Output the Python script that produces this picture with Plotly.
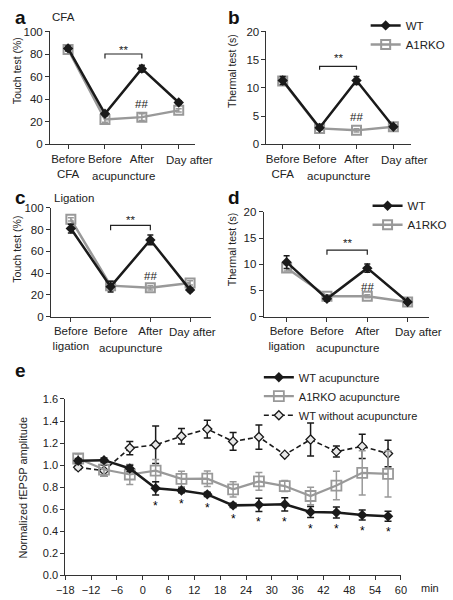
import plotly.graph_objects as go

W, H = 453, 600
FONT = "Liberation Sans, Arial, sans-serif"
BLACK = "#1a1a1a"
GRAY = "#999999"
TXT = "#222222"

# ---------------- data ----------------
cats_cfa = ["Before<br>CFA", "Before", "After", "Day after"]
cats_lig = ["Before<br>ligation", "Before", "After", "Day after"]

a_wt = [85, 27, 67, 37]
a_wt_err = [2, 1.5, 3, 1.5]
a_ko = [84, 22, 24, 30]
a_ko_err = [1.5, 2.5, 3, 1.5]

b_wt = [11.3, 2.9, 11.3, 3.1]
b_wt_err = [0.7, 0.3, 0.7, 0.3]
b_ko = [11.2, 2.8, 2.45, 3.1]
b_ko_err = [0.6, 0.3, 0.3, 0.3]

c_wt = [81, 27.6, 70.5, 24.6]
c_wt_err = [4, 5, 4.5, 1.5]
c_ko = [89.5, 28.5, 26.5, 31]
c_ko_err = [1.5, 2, 2, 2]

d_wt = [10.4, 3.4, 9.25, 2.8]
d_wt_err = [1.2, 0.4, 0.8, 0.3]
d_ko = [9.3, 3.9, 3.9, 2.8]
d_ko_err = [0.6, 0.3, 0.3, 0.3]

t_min = [-15, -9, -3, 3, 9, 15, 21, 27, 33, 39, 45, 51, 57]
e_wt_acu = [1.04, 1.045, 0.97, 0.79, 0.77, 0.735, 0.635, 0.64, 0.645, 0.575, 0.57, 0.548, 0.536]
e_wt_acu_err = [0.02, 0.02, 0.03, 0.06, 0.02, 0.02, 0.02, 0.06, 0.06, 0.05, 0.05, 0.045, 0.045]
e_ko_acu = [1.06, 0.96, 0.915, 0.95, 0.875, 0.877, 0.78, 0.853, 0.81, 0.72, 0.815, 0.93, 0.92]
e_ko_acu_err = [0.04, 0.06, 0.09, 0.1, 0.07, 0.07, 0.07, 0.08, 0.05, 0.08, 0.13, 0.2, 0.21]
e_wt_no = [0.98, 0.95, 1.155, 1.185, 1.262, 1.327, 1.215, 1.255, 1.095, 1.232, 1.123, 1.17, 1.105]
e_wt_no_err = [0.02, 0.05, 0.06, 0.17, 0.07, 0.08, 0.08, 0.11, 0.01, 0.15, 0.05, 0.11, 0.12]
e_sig = [False, False, False, True, True, True, True, True, True, True, True, True, True]


def px(x):
    return x / W


def py(y):
    return 1 - y / H


fig = go.Figure()


def add_pair(xa, ya, wt, wt_err, ko, ko_err, legend=None):
    xs = list(range(len(wt)))
    show = legend is not None
    fig.add_trace(go.Scatter(
        x=xs, y=ko, xaxis=xa, yaxis=ya, mode="lines+markers", name="A1RKO",
        line=dict(color=GRAY, width=2.5),
        marker=dict(symbol="square-open", size=9, color=GRAY, line=dict(width=2, color=GRAY)),
        error_y=dict(type="data", array=ko_err, color=GRAY, thickness=1.5, width=3),
        showlegend=show, legend=legend or "legend", legendrank=2))
    fig.add_trace(go.Scatter(
        x=xs, y=wt, xaxis=xa, yaxis=ya, mode="lines+markers", name="WT",
        line=dict(color=BLACK, width=2.5),
        marker=dict(symbol="diamond", size=8, color=BLACK),
        error_y=dict(type="data", array=wt_err, color=BLACK, thickness=1.5, width=3),
        showlegend=show, legend=legend or "legend", legendrank=1))


add_pair("x", "y", a_wt, a_wt_err, a_ko, a_ko_err)
add_pair("x2", "y2", b_wt, b_wt_err, b_ko, b_ko_err, legend="legend")
add_pair("x3", "y3", c_wt, c_wt_err, c_ko, c_ko_err)
add_pair("x4", "y4", d_wt, d_wt_err, d_ko, d_ko_err, legend="legend2")

# panel e
fig.add_trace(go.Scatter(
    x=t_min, y=e_wt_no, xaxis="x5", yaxis="y5", mode="lines+markers",
    name="WT without acupuncture",
    line=dict(color=BLACK, width=1.6, dash="5px,3px"),
    marker=dict(symbol="diamond", size=7, color="#e8e8e8", line=dict(width=1.3, color=BLACK)),
    error_y=dict(type="data", array=e_wt_no_err, color=BLACK, thickness=1.5, width=3.5),
    legend="legend3", legendrank=3))
fig.add_trace(go.Scatter(
    x=t_min, y=e_ko_acu, xaxis="x5", yaxis="y5", mode="lines+markers",
    name="A1RKO acupuncture",
    line=dict(color=GRAY, width=2.2),
    marker=dict(symbol="square-open", size=10, color=GRAY, line=dict(width=1.8, color=GRAY)),
    error_y=dict(type="data", array=e_ko_acu_err, color=GRAY, thickness=1.5, width=3.5),
    legend="legend3", legendrank=2))
fig.add_trace(go.Scatter(
    x=t_min, y=e_wt_acu, xaxis="x5", yaxis="y5", mode="lines+markers",
    name="WT acupuncture",
    line=dict(color=BLACK, width=2.5),
    marker=dict(symbol="diamond", size=8, color=BLACK),
    error_y=dict(type="data", array=e_wt_acu_err, color=BLACK, thickness=1.5, width=3.5),
    legend="legend3", legendrank=1))

axis_common = dict(showline=True, linecolor="#333333", linewidth=1, ticks="outside",
                   ticklen=4, tickcolor="#333333", showgrid=False, zeroline=False,
                   tickangle=0,
                   tickfont=dict(family=FONT, size=11.5, color=TXT), fixedrange=True)


def cat_x(domain, rng, labels, anchor):
    # last category label is drawn separately (it sits right of its tick)
    d = dict(axis_common)
    d.update(domain=domain, range=rng, tickmode="array", tickvals=list(range(len(labels))),
             ticktext=labels[:-1] + [""], anchor=anchor)
    return d


def val_y(domain, rng, dtick, anchor):
    d = dict(axis_common)
    d.update(domain=domain, range=rng, dtick=dtick, tick0=0, anchor=anchor)
    return d


layout = dict(
    width=W, height=H, margin=dict(l=0, r=0, t=0, b=0),
    paper_bgcolor="white", plot_bgcolor="rgba(0,0,0,0)",
    font=dict(family=FONT, size=11, color=TXT),
    xaxis=cat_x([px(43), px(195)], [-0.49, 3.44], cats_cfa, "y"),
    yaxis=val_y([py(141), py(26)], [0, 100], 20, "x"),
    xaxis2=cat_x([px(270), px(422)], [-0.44, 3.49], cats_cfa, "y2"),
    yaxis2=val_y([py(141), py(26)], [0, 20], 5, "x2"),
    xaxis3=cat_x([px(44), px(212)], [-0.5, 3.53], cats_lig, "y3"),
    yaxis3=val_y([py(317), py(206)], [0, 100], 20, "x3"),
    xaxis4=cat_x([px(267), px(440)], [-0.57, 3.52], cats_lig, "y4"),
    yaxis4=val_y([py(317), py(210)], [0, 20], 5, "x4"),
)
ex = dict(axis_common)
ex.update(domain=[px(59), px(411)], range=[-18, 60], dtick=6, tick0=-18, anchor="y5",
          tickfont=dict(family=FONT, size=11, color=TXT))
ey = dict(axis_common)
ey.update(domain=[py(581), py(401)], range=[0, 1.6], dtick=0.2, tick0=0, tickformat=".1f",
          anchor="x5", tickfont=dict(family=FONT, size=11, color=TXT))
layout["xaxis5"] = ex
layout["yaxis5"] = ey

leg_font = dict(family=FONT, size=11.5, color=TXT)
layout["legend"] = dict(x=px(374), y=py(5), xanchor="left", yanchor="top", font=leg_font,
                        bgcolor="rgba(0,0,0,0)", tracegroupgap=0, itemwidth=30)
layout["legend2"] = dict(x=px(376), y=py(189), xanchor="left", yanchor="top", font=leg_font,
                         bgcolor="rgba(0,0,0,0)", tracegroupgap=0, itemwidth=30)
layout["legend3"] = dict(x=px(262), y=py(364), xanchor="left", yanchor="top",
                         font=dict(family=FONT, size=11, color=TXT),
                         bgcolor="rgba(0,0,0,0)", tracegroupgap=0, itemwidth=30)
fig.update_layout(**layout)


# brackets and significance marks
def bracket(xa, ya, y0, y1, star_y, hash_y):
    fig.add_shape(type="path", xref=xa, yref=ya,
                  path=f"M 1,{y1} L 1,{y0} L 2,{y0} L 2,{y1}",
                  line=dict(color=TXT, width=1.2))
    fig.add_annotation(x=1.5, y=star_y, xref=xa, yref=ya, text="**", showarrow=False,
                       font=dict(family=FONT, size=11.5, color=TXT))
    fig.add_annotation(x=2, y=hash_y, xref=xa, yref=ya, text="##", showarrow=False,
                       font=dict(family=FONT, size=11.5, color=TXT))


bracket("x", "y", 80, 76, 84, 36)
bracket("x2", "y2", 13.8, 13.2, 15.3, 4.8)
bracket("x3", "y3", 84, 79.5, 88.5, 37.5)
bracket("x4", "y4", 12.7, 11.8, 14.0, 5.6)

# "acupuncture" second line and shifted last category label
for xa, ya, cats, top, bot, shift in [("x", "y", cats_cfa, 26, 141, 11),
                                      ("x2", "y2", cats_cfa, 26, 141, 11),
                                      ("x3", "y3", cats_lig, 206, 317, 2),
                                      ("x4", "y4", cats_lig, 210, 317, 11)]:
    span = bot - top
    fig.add_annotation(x=1.5, y=-32 / span, xref=xa, yref=f"{ya} domain",
                       text="acupuncture", showarrow=False, yanchor="middle",
                       font=dict(family=FONT, size=11.5, color=TXT))
    fig.add_annotation(x=len(cats) - 1, y=-16 / span, xref=xa, yref=f"{ya} domain",
                       xshift=shift, text=cats[-1], showarrow=False, yanchor="middle",
                       font=dict(family=FONT, size=11.5, color=TXT))

# panel letters and titles
for txt, x, y in [("a", 4, 12), ("b", 228, 12), ("c", 4, 195), ("d", 228, 195), ("e", 4, 372)]:
    fig.add_annotation(x=px(x), y=py(y), xref="paper", yref="paper", text=f"<b>{txt}</b>",
                       showarrow=False, xanchor="left", yanchor="middle",
                       font=dict(family=FONT, size=19, color="#111111"))
fig.add_annotation(x=px(43), y=py(11), xref="paper", yref="paper", text="CFA", showarrow=False,
                   xanchor="left", yanchor="middle", font=dict(family=FONT, size=11.5, color=TXT))
fig.add_annotation(x=px(45), y=py(196), xref="paper", yref="paper", text="Ligation",
                   showarrow=False, xanchor="left", yanchor="middle",
                   font=dict(family=FONT, size=11.5, color=TXT))

# y-axis titles
for txt, x, y, sz in [("Touch test (%)", 8, 66, 10.5), ("Thermal test (s)", 233, 66, 10.5),
                      ("Touch test (%)", 8, 248, 10.5), ("Thermal test (s)", 234, 248, 10.5),
                      ("Normalized fEPSP amplitude", 15, 491, 11)]:
    fig.add_annotation(x=px(x), y=py(y), xref="paper", yref="paper", text=txt, textangle=-90,
                       showarrow=False, xanchor="center", yanchor="middle",
                       font=dict(family=FONT, size=sz, color=TXT))

fig.add_annotation(x=px(430), y=py(594), xref="paper", yref="paper", text="min", showarrow=False,
                   xanchor="left", yanchor="middle",
                   font=dict(family=FONT, size=11, color=TXT))

# significance asterisks under WT acupuncture points
for t, m, er, s in zip(t_min, e_wt_acu, e_wt_acu_err, e_sig):
    if s:
        fig.add_annotation(x=t, y=m - er - 0.1, xref="x5", yref="y5", text="*", showarrow=False,
                           yanchor="middle", font=dict(family=FONT, size=12, color="#000000"))

fig.write_html("out.html", config={"displayModeBar": False},
               post_script="document.body.style.margin='0';")
